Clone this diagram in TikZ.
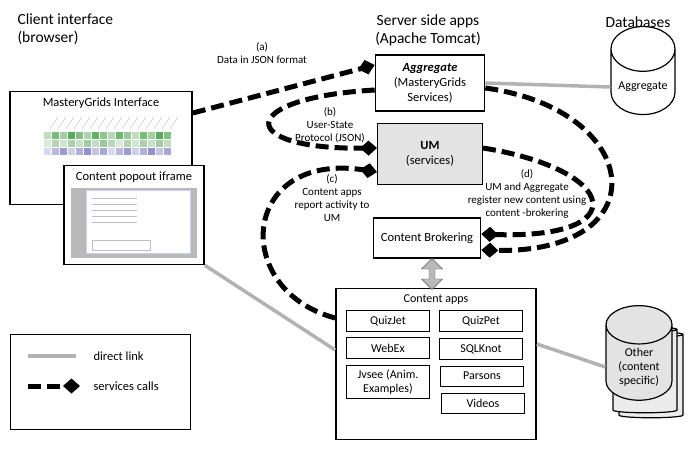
\documentclass[tikz,border=0pt]{standalone}
\usepackage{fontspec}
\setmainfont{Carlito}
\usetikzlibrary{positioning, arrows.meta, shapes.geometric, shapes.arrows}

\tikzset{
    box/.style={draw, line width=1.6pt, align=center, font=\fontsize{12.5}{15}\selectfont},
    app/.style={draw, line width=0.8pt, minimum width=83pt, align=center, font=\fontsize{12}{14}\selectfont},
    db/.style={cylinder, shape border rotate=90, draw, line width=1.2pt, aspect=0.8, align=center, font=\fontsize{12}{14}\selectfont},
    call/.style={line width=5pt, dash pattern=on 13pt off 6pt, -{Diamond[length=17pt,width=15pt,line width=0pt]}},
    link/.style={line width=3.5pt, gray!60},
    lbl/.style={font=\fontsize{11}{13}\selectfont, align=center},
    title/.style={font=\fontsize{15.5}{18}\selectfont, align=left}
}

\begin{document}
\begin{tikzpicture}[x=1pt, y=-1pt]
    \useasboundingbox (0,0) rectangle (689,469);

    % headings
    \node[title, anchor=north west] (hclient) at (14,10) {Client interface\\(browser)};
    \node[title, align=center] (hserver) at (428,30) {Server side apps\\(Apache Tomcat)};
    \node[title] (hdb) at (638,22) {Databases};

    % server boxes
    \node[box, minimum width=109pt, minimum height=56pt] (agg) at (430,83)
        {\textbf{\textit{Aggregate}}\\(MasteryGrids\\Services)};
    \node[box, line width=1pt, fill=gray!22, minimum width=105pt, minimum height=61pt] (um) at (430,154)
        {\textbf{UM}\\(services)};
    \node[box, minimum width=107pt, minimum height=40pt] (cb) at (427,238) {Content Brokering};

    % content apps
    \node[box, minimum width=200pt, minimum height=151pt] (apps) at (436,364) {};
    \node[font=\fontsize{12}{14}\selectfont] (appst) at (436,300) {Content apps};
    \node[app, minimum height=21pt] (quizjet) at (388,321) {QuizJet};
    \node[app, minimum height=21pt] (quizpet) at (481,321) {QuizPet};
    \node[app, minimum height=21pt] (webex) at (388,348) {WebEx};
    \node[app, minimum height=21pt] (sqlknot) at (481,349) {SQLKnot};
    \node[app, minimum height=33pt, inner sep=1pt] (jvsee) at (388,382) {Jvsee (Anim.\\Examples)};
    \node[app, minimum height=20pt] (parsons) at (482,376) {Parsons};
    \node[app, minimum height=20pt] (videos) at (483,403) {Videos};

    \node[double arrow, draw=gray!70!black, fill=gray!55, rotate=90, minimum height=31pt,
          minimum width=21pt, double arrow head extend=3pt, inner sep=1pt] (dbl) at (432,274) {};

    % databases
    \node[db, minimum width=64pt, minimum height=88pt] (aggdb) at (643,87) {Aggregate};
    \node[db, fill=gray!15, minimum width=64pt, minimum height=86pt] (oth2) at (651,377) {};
    \node[db, fill=gray!15, minimum width=64pt, minimum height=86pt] (oth1) at (645,372) {};
    \node[db, fill=gray!22, minimum width=66pt, minimum height=86pt] (other) at (639,367) {Other\\(content\\specific)};

    % client side
    \node[box, minimum width=182pt, minimum height=113pt] (mg) at (101,148) {};
    \node[font=\fontsize{12.5}{15}\selectfont] (mgt) at (101,103) {MasteryGrids Interface};
    \foreach \i in {0,...,15} {
        \draw[gray!60] (50+\i*8,129) -- +(8,-12);
        \fill[green!50!black, opacity={0.25+0.04*mod(\i*7,11)}] (44+\i*8,132) rectangle +(7,7);
        \fill[green!45!black, opacity={0.15+0.03*mod(\i*5,9)}] (44+\i*8,140) rectangle +(7,7);
        \fill[blue!55!black, opacity={0.15+0.04*mod(\i*3,8)}] (44+\i*8,148) rectangle +(7,7);
    }
    \node[box, fill=white, minimum width=140pt, minimum height=99pt] (pop) at (134,215) {};
    \node[font=\fontsize{12.5}{15}\selectfont] (popt) at (134,177) {Content popout iframe};
    \fill[gray!55] (71,188) rectangle (197,258);
    \draw[fill=white, draw=blue!20] (86,190) rectangle (190,253);
    \foreach \j in {0,...,4} \draw[gray!50] (92,198+\j*6) -- +(45,0);
    \draw[gray!50] (92,240) rectangle (150,250);

    % legend
    \node[draw, line width=1pt, minimum width=180pt, minimum height=95pt] (leg) at (100,382) {};
    \coordinate (l1a) at (28,356); \coordinate (l1b) at (76,356);
    \coordinate (l2a) at (28,386); \coordinate (l2b) at (80,386);
    \draw[link] (l1a) -- (l1b);
    \draw[call] (l2a) -- (l2b);
    \node[anchor=west, font=\fontsize{12.5}{15}\selectfont] (ll1) at (90,356) {direct link};
    \node[anchor=west, font=\fontsize{12.5}{15}\selectfont] (ll2) at (90,386) {services calls};

    % direct links
    \draw[link] (agg.east) -- (aggdb.west);
    \draw[link] (apps.east |- 0,344) -- (other.west);
    \draw[link] (pop.south east) -- (apps.west |- 0,350);

    % services calls
    \draw[call] (mg.east |- 0,113) -- ([yshift=18pt]agg.west);
    \draw[call] ([yshift=-7pt]agg.west) .. controls (235,98) and (235,150) .. ([yshift=6pt]um.west);
    \draw[call] (apps.west |- 0,318) .. controls (230,290) and (240,150) .. ([yshift=-18pt]um.west);
    \draw[call] ([yshift=6pt]um.east) .. controls (620,170) and (635,240) .. ([yshift=4pt]cb.east);
    \draw[call] ([yshift=-5pt]agg.east) .. controls (645,110) and (660,255) .. ([yshift=-12pt]cb.east);

    % labels
    \node[lbl] (la) at (262,53) {(a)\\Data in JSON format};
    \node[lbl] (lb) at (330,125) {(b)\\User-State\\Protocol (JSON)};
    \node[lbl] (lc) at (332,198) {(c)\\Content apps\\report activity to\\UM};
    \node[lbl] (ld) at (527,194) {(d)\\UM and Aggregate\\register new content using\\content -brokering};
\end{tikzpicture}
\end{document}
